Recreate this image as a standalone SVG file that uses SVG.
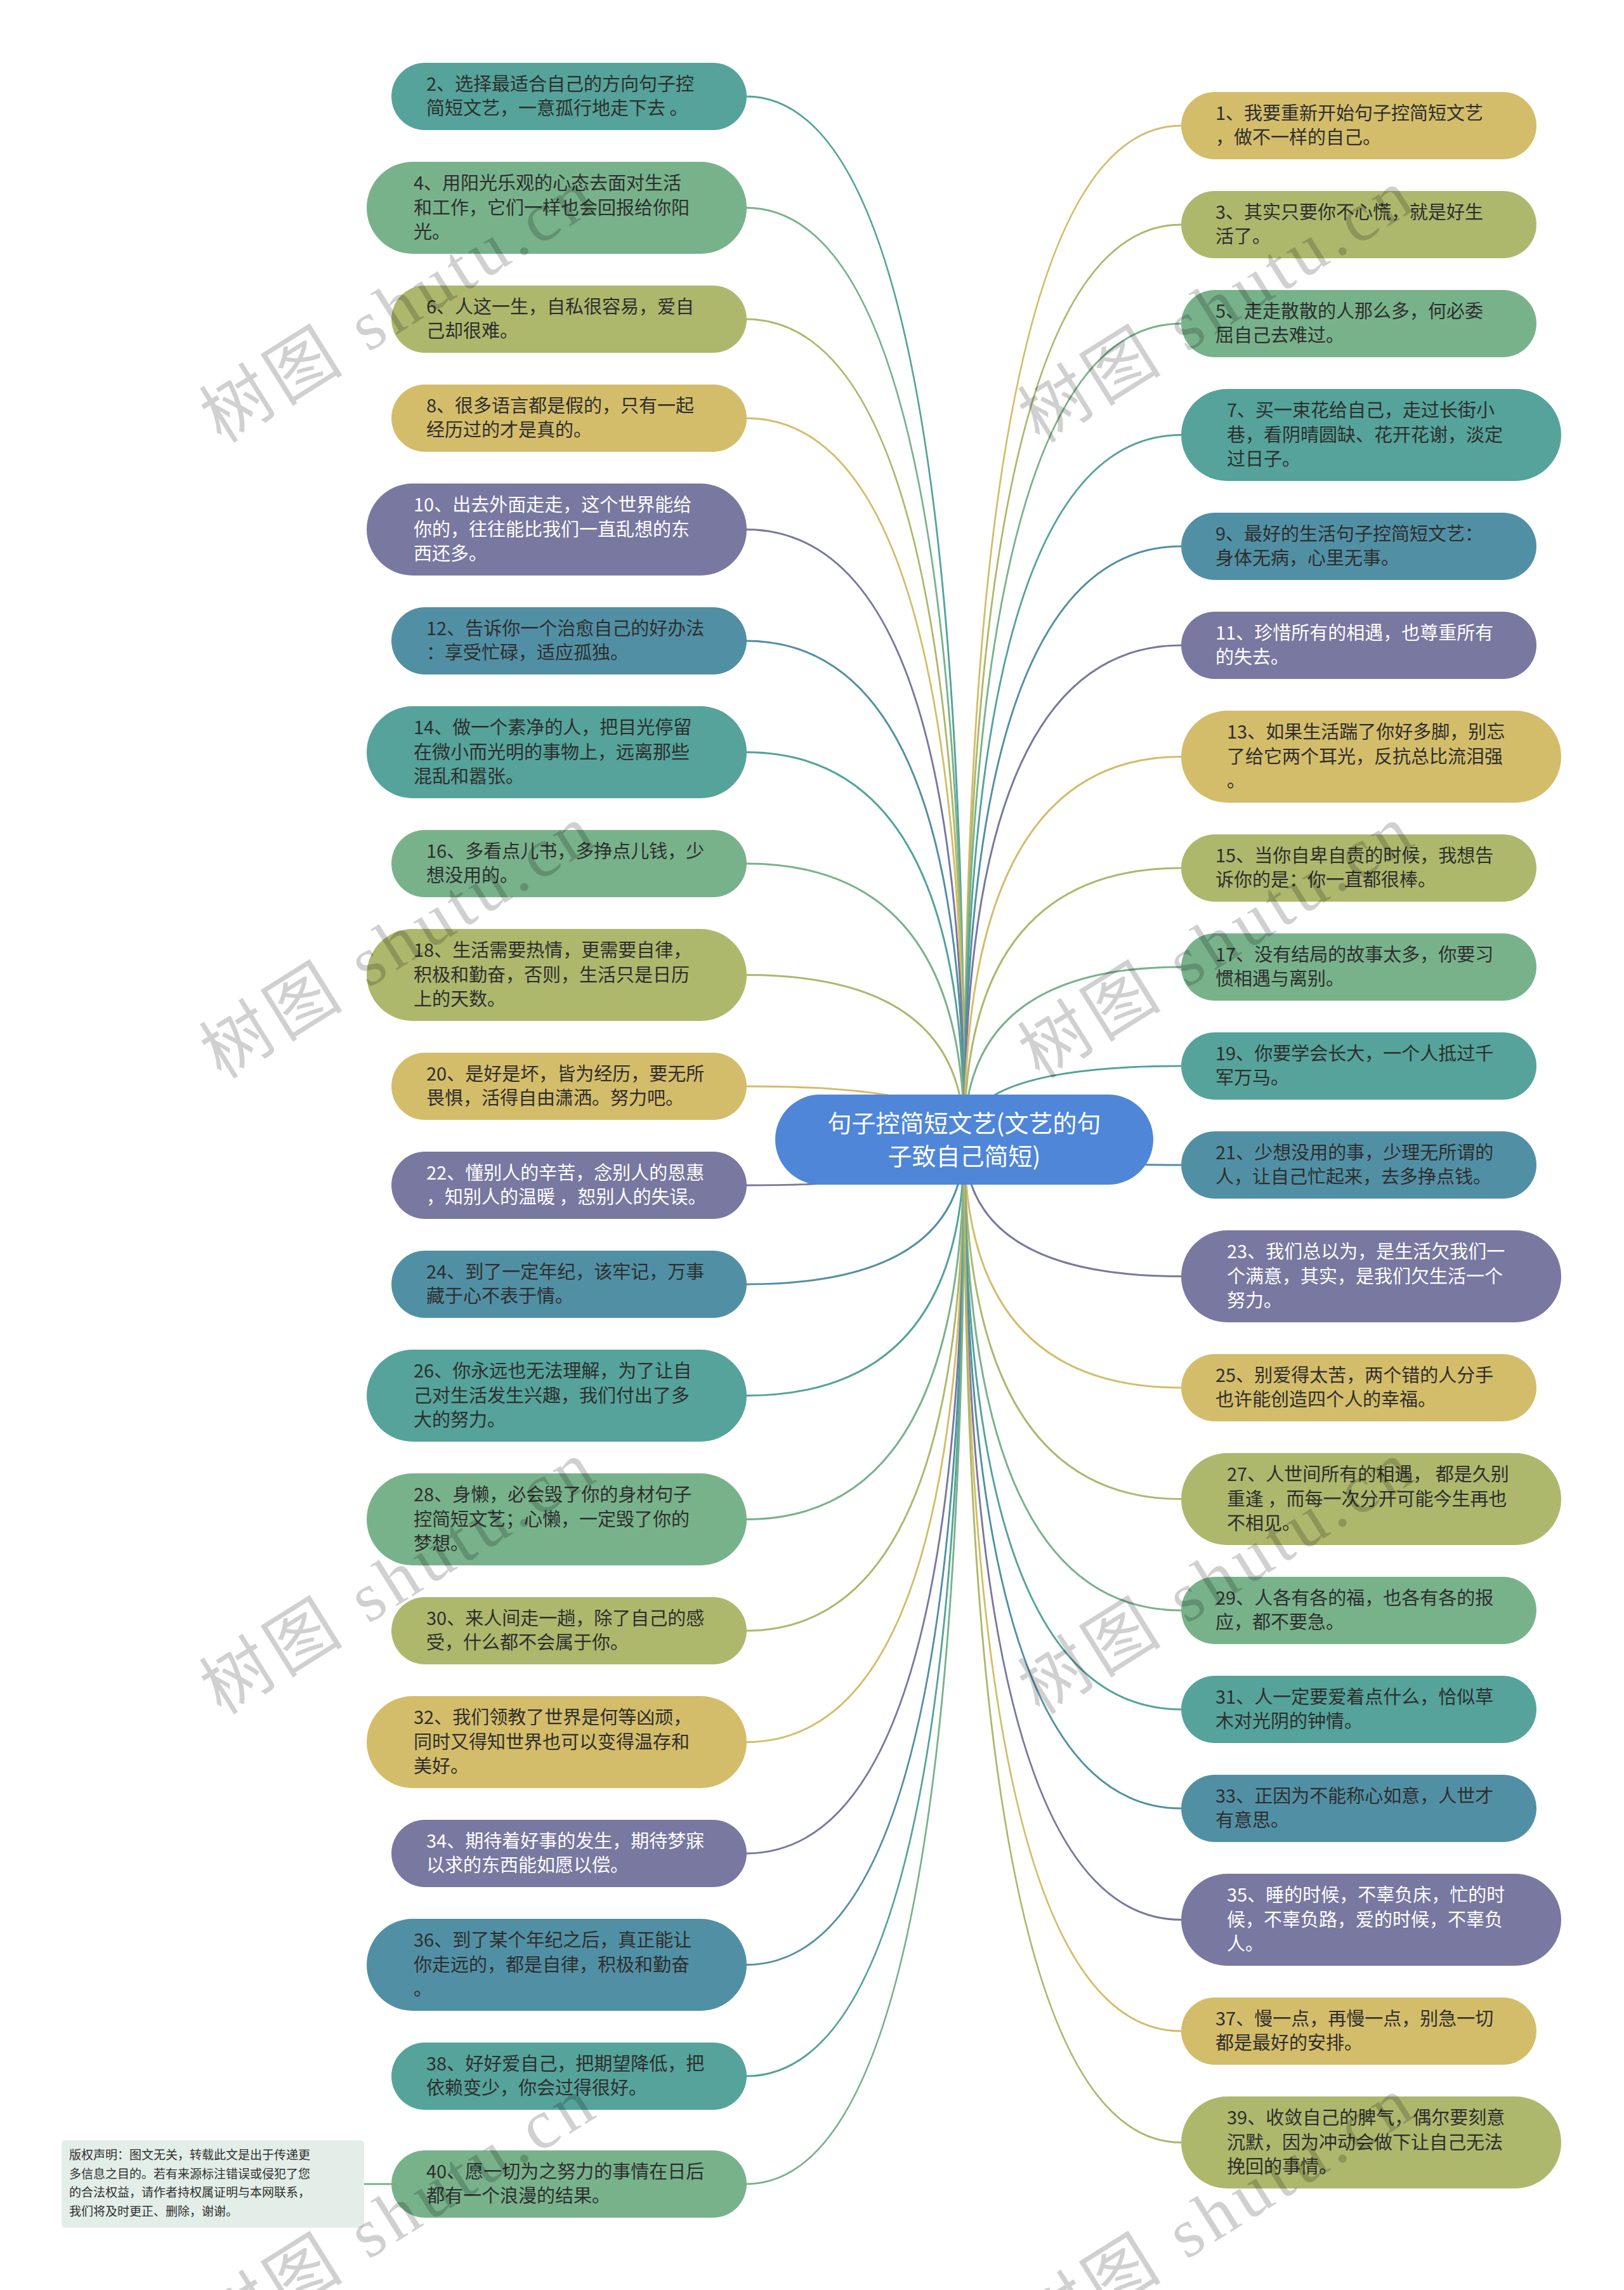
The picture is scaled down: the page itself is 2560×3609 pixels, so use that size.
<svg xmlns="http://www.w3.org/2000/svg" width="2560" height="3609" viewBox="0 0 2560 3609">
<style>
.bg{fill:#ffffff}
.teal{fill:#55a39a}.green{fill:#78b28b}.olive{fill:#adb86d}.yellow{fill:#d4bd6a}.purple{fill:#7878a0}.blue{fill:#5190a4}
.c-teal{stroke:#55a39a}.c-green{stroke:#78b28b}.c-olive{stroke:#adb86d}.c-yellow{stroke:#d4bd6a}.c-purple{stroke:#7878a0}.c-blue{stroke:#5190a4}
#connectors path{fill:none;stroke-width:3}
.t{font-family:"Noto Sans CJK SC","Noto Sans",sans-serif;font-size:29px;fill:#2e2e2e}
.tw{font-family:"Noto Sans CJK SC","Noto Sans",sans-serif;font-size:29px;fill:#ffffff}
.ct{font-family:"Noto Sans CJK SC","Noto Sans",sans-serif;font-size:38px;fill:#ffffff;text-anchor:middle}
.cp{font-family:"Noto Sans CJK SC","Noto Sans",sans-serif;font-size:19px;fill:#2e2e2e}
.wm{font-family:"Liberation Serif","Noto Sans CJK SC",serif;font-size:110px;fill:#000000;opacity:0.18}
</style>
<rect class="bg" x="0" y="0" width="2560" height="3609"/>
<g id="connectors">
<path class="c-teal" d="M1520,1796 Q1520,152 1176,152"/>
<path class="c-green" d="M1520,1796 Q1520,327.5 1176,327.5"/>
<path class="c-olive" d="M1520,1796 Q1520,503 1176,503"/>
<path class="c-yellow" d="M1520,1796 Q1520,659 1176,659"/>
<path class="c-purple" d="M1520,1796 Q1520,834.5 1176,834.5"/>
<path class="c-blue" d="M1520,1796 Q1520,1010 1176,1010"/>
<path class="c-teal" d="M1520,1796 Q1520,1185.5 1176,1185.5"/>
<path class="c-green" d="M1520,1796 Q1520,1361 1176,1361"/>
<path class="c-olive" d="M1520,1796 Q1520,1536.5 1176,1536.5"/>
<path class="c-yellow" d="M1520,1796 Q1520,1712 1176,1712"/>
<path class="c-purple" d="M1520,1796 Q1520,1868 1176,1868"/>
<path class="c-blue" d="M1520,1796 Q1520,2024 1176,2024"/>
<path class="c-teal" d="M1520,1796 Q1520,2199.5 1176,2199.5"/>
<path class="c-green" d="M1520,1796 Q1520,2394.5 1176,2394.5"/>
<path class="c-olive" d="M1520,1796 Q1520,2570 1176,2570"/>
<path class="c-yellow" d="M1520,1796 Q1520,2745.5 1176,2745.5"/>
<path class="c-purple" d="M1520,1796 Q1520,2921 1176,2921"/>
<path class="c-blue" d="M1520,1796 Q1520,3096.5 1176,3096.5"/>
<path class="c-teal" d="M1520,1796 Q1520,3272 1176,3272"/>
<path class="c-green" d="M1520,1796 Q1520,3442 1176,3442"/>
<path class="c-yellow" d="M1520,1796 Q1520,198 1862,198"/>
<path class="c-olive" d="M1520,1796 Q1520,354 1862,354"/>
<path class="c-green" d="M1520,1796 Q1520,510 1862,510"/>
<path class="c-teal" d="M1520,1796 Q1520,685.5 1862,685.5"/>
<path class="c-blue" d="M1520,1796 Q1520,861 1862,861"/>
<path class="c-purple" d="M1520,1796 Q1520,1017 1862,1017"/>
<path class="c-yellow" d="M1520,1796 Q1520,1192.5 1862,1192.5"/>
<path class="c-olive" d="M1520,1796 Q1520,1368 1862,1368"/>
<path class="c-green" d="M1520,1796 Q1520,1524 1862,1524"/>
<path class="c-teal" d="M1520,1796 Q1520,1680 1862,1680"/>
<path class="c-blue" d="M1520,1796 Q1520,1836 1862,1836"/>
<path class="c-purple" d="M1520,1796 Q1520,2011.5 1862,2011.5"/>
<path class="c-yellow" d="M1520,1796 Q1520,2187 1862,2187"/>
<path class="c-olive" d="M1520,1796 Q1520,2362.5 1862,2362.5"/>
<path class="c-green" d="M1520,1796 Q1520,2538 1862,2538"/>
<path class="c-teal" d="M1520,1796 Q1520,2694 1862,2694"/>
<path class="c-blue" d="M1520,1796 Q1520,2850 1862,2850"/>
<path class="c-purple" d="M1520,1796 Q1520,3025.5 1862,3025.5"/>
<path class="c-yellow" d="M1520,1796 Q1520,3201 1862,3201"/>
<path class="c-olive" d="M1520,1796 Q1520,3376.5 1862,3376.5"/>
<path class="c-green" d="M574,3442 L617,3442"/>
</g>
<g id="center">
<rect x="1222" y="1725" width="596" height="142" rx="71" fill="#4f86d8"/>
<text class="ct"><tspan x="1520" y="1784">句子控简短文艺(文艺的句</tspan><tspan x="1520" y="1836">子致自己简短)</tspan></text>
</g>
<g id="node-2"><rect class="teal" x="617" y="99" width="560" height="106" rx="53"/><text class="t"><tspan x="672" y="143">2、选择最适合自己的方向句子控</tspan><tspan x="672" y="181">简短文艺，一意孤行地走下去 。</tspan></text></g>
<g id="node-4"><rect class="green" x="578" y="255" width="599" height="145" rx="72.5"/><text class="t"><tspan x="652" y="299">4、用阳光乐观的心态去面对生活</tspan><tspan x="652" y="338">和工作，它们一样也会回报给你阳</tspan><tspan x="652" y="376">光。</tspan></text></g>
<g id="node-6"><rect class="olive" x="617" y="450" width="560" height="106" rx="53"/><text class="t"><tspan x="672" y="494">6、人这一生，自私很容易，爱自</tspan><tspan x="672" y="532">己却很难。</tspan></text></g>
<g id="node-8"><rect class="yellow" x="617" y="606" width="560" height="106" rx="53"/><text class="t"><tspan x="672" y="650">8、很多语言都是假的，只有一起</tspan><tspan x="672" y="688">经历过的才是真的。</tspan></text></g>
<g id="node-10"><rect class="purple" x="578" y="762" width="599" height="145" rx="72.5"/><text class="tw"><tspan x="652" y="806">10、出去外面走走，这个世界能给</tspan><tspan x="652" y="845">你的，往往能比我们一直乱想的东</tspan><tspan x="652" y="883">西还多。</tspan></text></g>
<g id="node-12"><rect class="blue" x="617" y="957" width="560" height="106" rx="53"/><text class="t"><tspan x="672" y="1001">12、告诉你一个治愈自己的好办法</tspan><tspan x="672" y="1039">：享受忙碌，适应孤独。</tspan></text></g>
<g id="node-14"><rect class="teal" x="578" y="1113" width="599" height="145" rx="72.5"/><text class="t"><tspan x="652" y="1157">14、做一个素净的人，把目光停留</tspan><tspan x="652" y="1196">在微小而光明的事物上，远离那些</tspan><tspan x="652" y="1234">混乱和嚣张。</tspan></text></g>
<g id="node-16"><rect class="green" x="617" y="1308" width="560" height="106" rx="53"/><text class="t"><tspan x="672" y="1352">16、多看点儿书，多挣点儿钱，少</tspan><tspan x="672" y="1390">想没用的。</tspan></text></g>
<g id="node-18"><rect class="olive" x="578" y="1464" width="599" height="145" rx="72.5"/><text class="t"><tspan x="652" y="1508">18、生活需要热情，更需要自律，</tspan><tspan x="652" y="1547">积极和勤奋，否则，生活只是日历</tspan><tspan x="652" y="1585">上的天数。</tspan></text></g>
<g id="node-20"><rect class="yellow" x="617" y="1659" width="560" height="106" rx="53"/><text class="t"><tspan x="672" y="1703">20、是好是坏，皆为经历，要无所</tspan><tspan x="672" y="1741">畏惧，活得自由潇洒。努力吧。</tspan></text></g>
<g id="node-22"><rect class="purple" x="617" y="1815" width="560" height="106" rx="53"/><text class="tw"><tspan x="672" y="1859">22、懂别人的辛苦，念别人的恩惠</tspan><tspan x="672" y="1897">，知别人的温暖 ，恕别人的失误。</tspan></text></g>
<g id="node-24"><rect class="blue" x="617" y="1971" width="560" height="106" rx="53"/><text class="t"><tspan x="672" y="2015">24、到了一定年纪，该牢记，万事</tspan><tspan x="672" y="2053">藏于心不表于情。</tspan></text></g>
<g id="node-26"><rect class="teal" x="578" y="2127" width="599" height="145" rx="72.5"/><text class="t"><tspan x="652" y="2171">26、你永远也无法理解，为了让自</tspan><tspan x="652" y="2210">己对生活发生兴趣，我们付出了多</tspan><tspan x="652" y="2248">大的努力。</tspan></text></g>
<g id="node-28"><rect class="green" x="578" y="2322" width="599" height="145" rx="72.5"/><text class="t"><tspan x="652" y="2366">28、身懒，必会毁了你的身材句子</tspan><tspan x="652" y="2405">控简短文艺；心懒，一定毁了你的</tspan><tspan x="652" y="2443">梦想。</tspan></text></g>
<g id="node-30"><rect class="olive" x="617" y="2517" width="560" height="106" rx="53"/><text class="t"><tspan x="672" y="2561">30、来人间走一趟，除了自己的感</tspan><tspan x="672" y="2599">受，什么都不会属于你。</tspan></text></g>
<g id="node-32"><rect class="yellow" x="578" y="2673" width="599" height="145" rx="72.5"/><text class="t"><tspan x="652" y="2717">32、我们领教了世界是何等凶顽，</tspan><tspan x="652" y="2756">同时又得知世界也可以变得温存和</tspan><tspan x="652" y="2794">美好。</tspan></text></g>
<g id="node-34"><rect class="purple" x="617" y="2868" width="560" height="106" rx="53"/><text class="tw"><tspan x="672" y="2912">34、期待着好事的发生，期待梦寐</tspan><tspan x="672" y="2950">以求的东西能如愿以偿。</tspan></text></g>
<g id="node-36"><rect class="blue" x="578" y="3024" width="599" height="145" rx="72.5"/><text class="t"><tspan x="652" y="3068">36、到了某个年纪之后，真正能让</tspan><tspan x="652" y="3107">你走远的，都是自律，积极和勤奋</tspan><tspan x="652" y="3145">。</tspan></text></g>
<g id="node-38"><rect class="teal" x="617" y="3219" width="560" height="106" rx="53"/><text class="t"><tspan x="672" y="3263">38、好好爱自己，把期望降低，把</tspan><tspan x="672" y="3301">依赖变少，你会过得很好。</tspan></text></g>
<g id="node-40"><rect class="green" x="617" y="3389" width="560" height="106" rx="53"/><text class="t"><tspan x="672" y="3433">40、愿一切为之努力的事情在日后</tspan><tspan x="672" y="3471">都有一个浪漫的结果。</tspan></text></g>
<g id="node-1"><rect class="yellow" x="1862" y="145" width="560" height="106" rx="53"/><text class="t"><tspan x="1916" y="189">1、我要重新开始句子控简短文艺</tspan><tspan x="1916" y="227">，做不一样的自己。</tspan></text></g>
<g id="node-3"><rect class="olive" x="1862" y="301" width="560" height="106" rx="53"/><text class="t"><tspan x="1916" y="345">3、其实只要你不心慌，就是好生</tspan><tspan x="1916" y="383">活了。</tspan></text></g>
<g id="node-5"><rect class="green" x="1862" y="457" width="560" height="106" rx="53"/><text class="t"><tspan x="1916" y="501">5、走走散散的人那么多，何必委</tspan><tspan x="1916" y="539">屈自己去难过。</tspan></text></g>
<g id="node-7"><rect class="teal" x="1862" y="613" width="599" height="145" rx="72.5"/><text class="t"><tspan x="1934" y="657">7、买一束花给自己，走过长街小</tspan><tspan x="1934" y="696">巷，看阴晴圆缺、花开花谢，淡定</tspan><tspan x="1934" y="734">过日子。</tspan></text></g>
<g id="node-9"><rect class="blue" x="1862" y="808" width="560" height="106" rx="53"/><text class="t"><tspan x="1916" y="852">9、最好的生活句子控简短文艺：</tspan><tspan x="1916" y="890">身体无病，心里无事。</tspan></text></g>
<g id="node-11"><rect class="purple" x="1862" y="964" width="560" height="106" rx="53"/><text class="tw"><tspan x="1916" y="1008">11、珍惜所有的相遇，也尊重所有</tspan><tspan x="1916" y="1046">的失去。</tspan></text></g>
<g id="node-13"><rect class="yellow" x="1862" y="1120" width="599" height="145" rx="72.5"/><text class="t"><tspan x="1934" y="1164">13、如果生活踹了你好多脚，别忘</tspan><tspan x="1934" y="1203">了给它两个耳光，反抗总比流泪强</tspan><tspan x="1934" y="1241">。</tspan></text></g>
<g id="node-15"><rect class="olive" x="1862" y="1315" width="560" height="106" rx="53"/><text class="t"><tspan x="1916" y="1359">15、当你自卑自责的时候，我想告</tspan><tspan x="1916" y="1397">诉你的是：你一直都很棒。</tspan></text></g>
<g id="node-17"><rect class="green" x="1862" y="1471" width="560" height="106" rx="53"/><text class="t"><tspan x="1916" y="1515">17、没有结局的故事太多，你要习</tspan><tspan x="1916" y="1553">惯相遇与离别。</tspan></text></g>
<g id="node-19"><rect class="teal" x="1862" y="1627" width="560" height="106" rx="53"/><text class="t"><tspan x="1916" y="1671">19、你要学会长大，一个人抵过千</tspan><tspan x="1916" y="1709">军万马。</tspan></text></g>
<g id="node-21"><rect class="blue" x="1862" y="1783" width="560" height="106" rx="53"/><text class="t"><tspan x="1916" y="1827">21、少想没用的事，少理无所谓的</tspan><tspan x="1916" y="1865">人，让自己忙起来，去多挣点钱。</tspan></text></g>
<g id="node-23"><rect class="purple" x="1862" y="1939" width="599" height="145" rx="72.5"/><text class="tw"><tspan x="1934" y="1983">23、我们总以为，是生活欠我们一</tspan><tspan x="1934" y="2022">个满意，其实，是我们欠生活一个</tspan><tspan x="1934" y="2060">努力。</tspan></text></g>
<g id="node-25"><rect class="yellow" x="1862" y="2134" width="560" height="106" rx="53"/><text class="t"><tspan x="1916" y="2178">25、别爱得太苦，两个错的人分手</tspan><tspan x="1916" y="2216">也许能创造四个人的幸福。</tspan></text></g>
<g id="node-27"><rect class="olive" x="1862" y="2290" width="599" height="145" rx="72.5"/><text class="t"><tspan x="1934" y="2334">27、人世间所有的相遇， 都是久别</tspan><tspan x="1934" y="2373">重逢 ，而每一次分开可能今生再也</tspan><tspan x="1934" y="2411">不相见。</tspan></text></g>
<g id="node-29"><rect class="green" x="1862" y="2485" width="560" height="106" rx="53"/><text class="t"><tspan x="1916" y="2529">29、人各有各的福，也各有各的报</tspan><tspan x="1916" y="2567">应，都不要急。</tspan></text></g>
<g id="node-31"><rect class="teal" x="1862" y="2641" width="560" height="106" rx="53"/><text class="t"><tspan x="1916" y="2685">31、人一定要爱着点什么，恰似草</tspan><tspan x="1916" y="2723">木对光阴的钟情。</tspan></text></g>
<g id="node-33"><rect class="blue" x="1862" y="2797" width="560" height="106" rx="53"/><text class="t"><tspan x="1916" y="2841">33、正因为不能称心如意，人世才</tspan><tspan x="1916" y="2879">有意思。</tspan></text></g>
<g id="node-35"><rect class="purple" x="1862" y="2953" width="599" height="145" rx="72.5"/><text class="tw"><tspan x="1934" y="2997">35、睡的时候，不辜负床，忙的时</tspan><tspan x="1934" y="3036">候，不辜负路，爱的时候，不辜负</tspan><tspan x="1934" y="3074">人。</tspan></text></g>
<g id="node-37"><rect class="yellow" x="1862" y="3148" width="560" height="106" rx="53"/><text class="t"><tspan x="1916" y="3192">37、慢一点，再慢一点，别急一切</tspan><tspan x="1916" y="3230">都是最好的安排。</tspan></text></g>
<g id="node-39"><rect class="olive" x="1862" y="3304" width="599" height="145" rx="72.5"/><text class="t"><tspan x="1934" y="3348">39、收敛自己的脾气，偶尔要刻意</tspan><tspan x="1934" y="3387">沉默，因为冲动会做下让自己无法</tspan><tspan x="1934" y="3425">挽回的事情。</tspan></text></g>
<g id="copyright"><rect x="97" y="3373" width="477" height="138" rx="6" fill="#e3eee8"/><text class="cp"><tspan x="109" y="3403">版权声明：图文无关，转载此文是出于传递更</tspan><tspan x="109" y="3433">多信息之目的。若有来源标注错误或侵犯了您</tspan><tspan x="109" y="3462">的合法权益，请作者持权属证明与本网联系，</tspan><tspan x="109" y="3492">我们将及时更正、删除，谢谢。</tspan></text></g>
<g id="watermarks">
<text class="wm" x="349" y="700" transform="rotate(-32 349 700)" textLength="700" lengthAdjust="spacing">树图 shutu.cn</text>
<text class="wm" x="1639" y="700" transform="rotate(-32 1639 700)" textLength="700" lengthAdjust="spacing">树图 shutu.cn</text>
<text class="wm" x="349" y="1702" transform="rotate(-32 349 1702)" textLength="700" lengthAdjust="spacing">树图 shutu.cn</text>
<text class="wm" x="1639" y="1702" transform="rotate(-32 1639 1702)" textLength="700" lengthAdjust="spacing">树图 shutu.cn</text>
<text class="wm" x="349" y="2704" transform="rotate(-32 349 2704)" textLength="700" lengthAdjust="spacing">树图 shutu.cn</text>
<text class="wm" x="1639" y="2704" transform="rotate(-32 1639 2704)" textLength="700" lengthAdjust="spacing">树图 shutu.cn</text>
<text class="wm" x="349" y="3706" transform="rotate(-32 349 3706)" textLength="700" lengthAdjust="spacing">树图 shutu.cn</text>
<text class="wm" x="1639" y="3706" transform="rotate(-32 1639 3706)" textLength="700" lengthAdjust="spacing">树图 shutu.cn</text>
</g>
</svg>
